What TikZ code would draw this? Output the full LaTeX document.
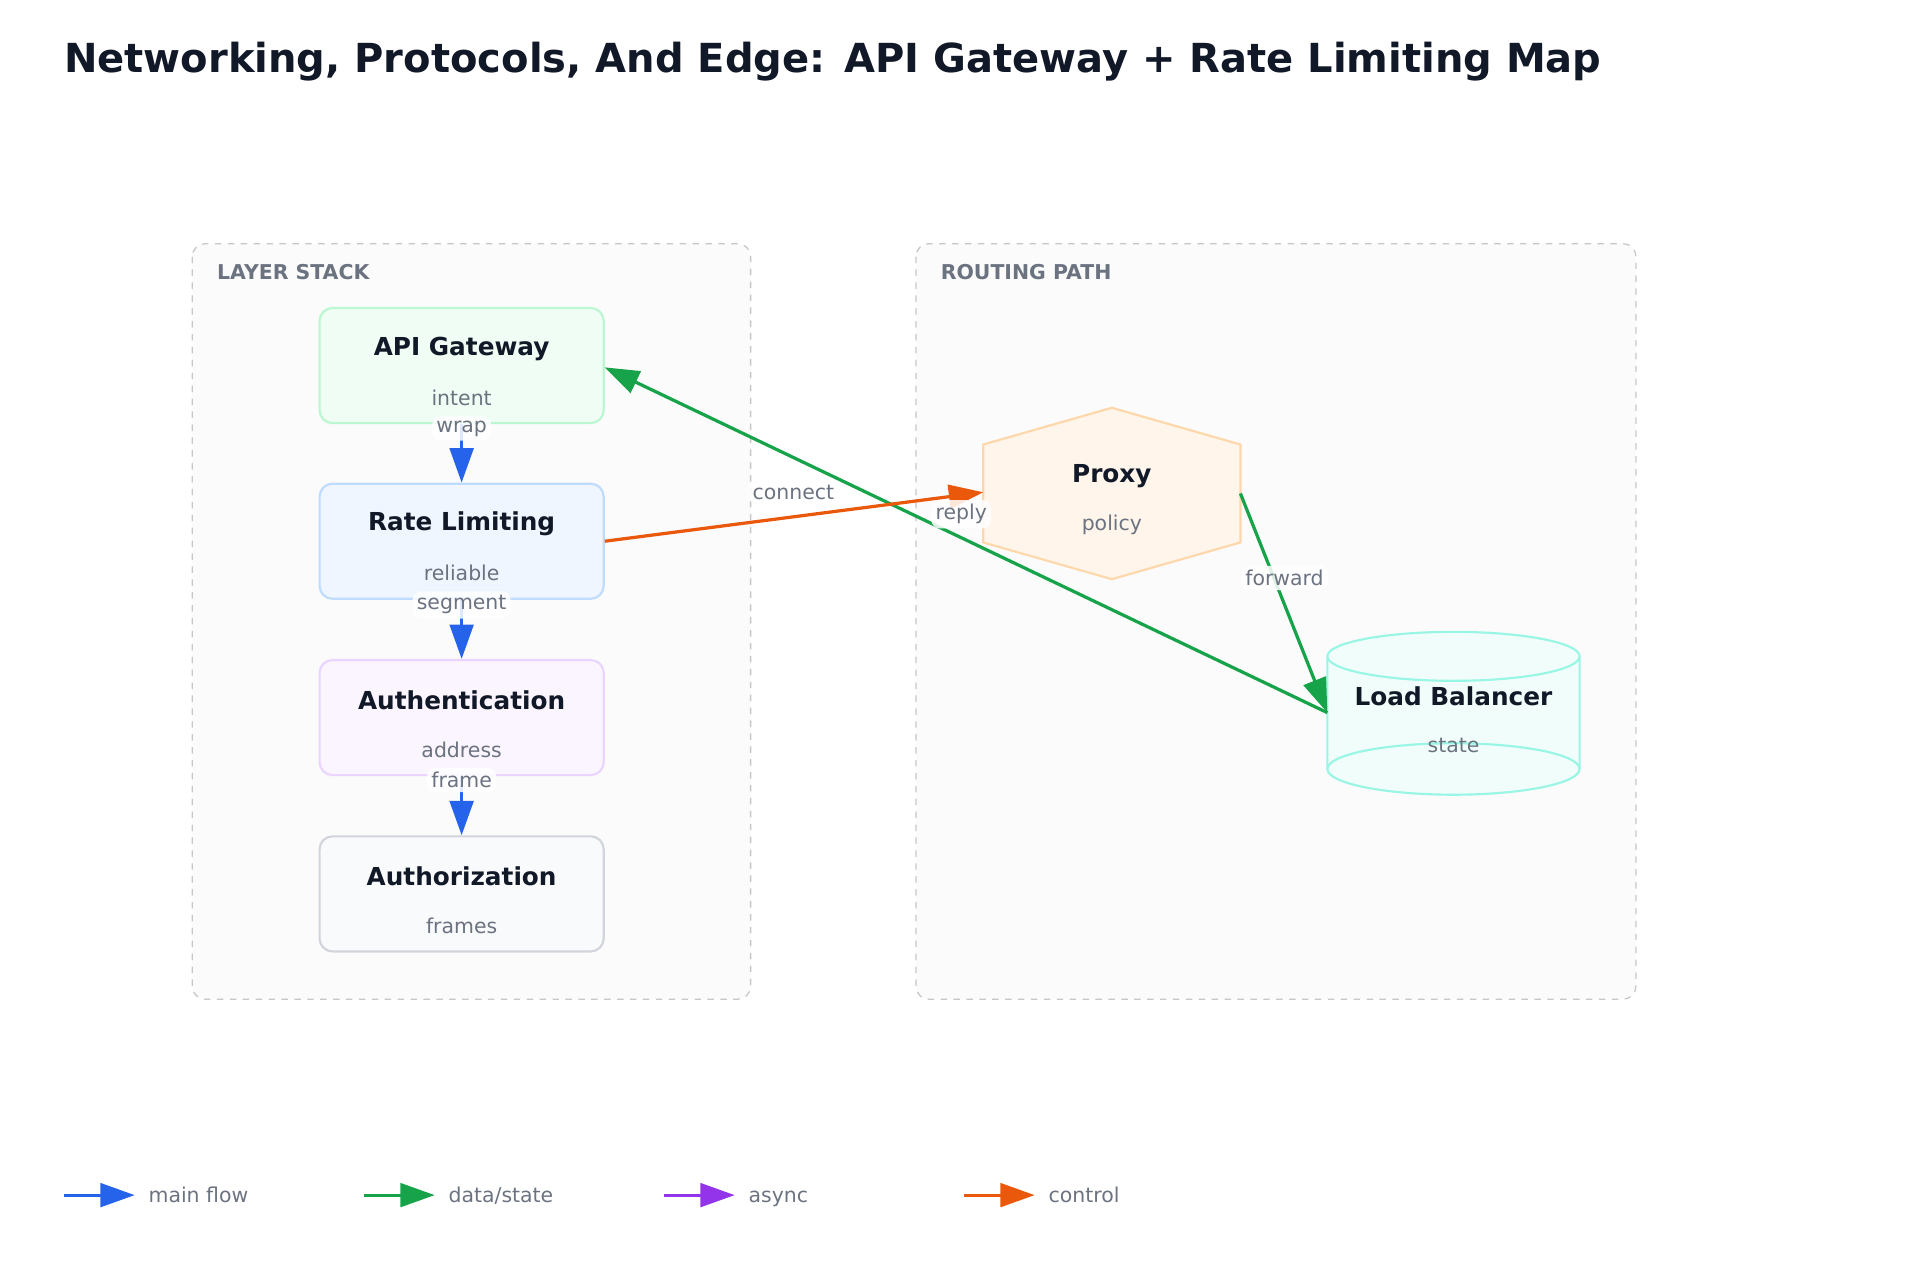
\documentclass[tikz,border=0pt]{standalone}
\usepackage{fontspec}
\setmainfont{DejaVu Sans}
\usetikzlibrary{arrows.meta}
\definecolor{ink}{HTML}{111827}
\definecolor{mute}{HTML}{6B7280}
\definecolor{cblue}{HTML}{2563EB}
\definecolor{cgreen}{HTML}{16A34A}
\definecolor{cpurp}{HTML}{9333EA}
\definecolor{corange}{HTML}{EA580C}
\definecolor{gwd}{HTML}{BBF7D0}\definecolor{gwf}{HTML}{F0FDF4}
\definecolor{rld}{HTML}{BFDBFE}\definecolor{rlf}{HTML}{EFF6FF}
\definecolor{aud}{HTML}{E9D5FF}\definecolor{auf}{HTML}{FAF5FF}
\definecolor{azd}{HTML}{D1D5DB}\definecolor{azf}{HTML}{F9FAFB}
\definecolor{pxd}{HTML}{FED7AA}\definecolor{pxf}{HTML}{FFF5EB}
\definecolor{lbd}{HTML}{99F6E4}\definecolor{lbf}{HTML}{F0FDFA}
\begin{document}
\begin{tikzpicture}[x=0.02cm,y=-0.02cm,
  panel/.style={draw=black!22,dashed,rounded corners=6pt,fill=black!1.5,line width=0.6pt},
  plabel/.style={anchor=west,inner sep=0pt,font=\bfseries\fontsize{9.5}{11}\selectfont,text=mute},
  box/.style={draw,rounded corners=6pt,line width=1pt,minimum width=232*0.02cm,minimum height=94*0.02cm},
  ttl/.style={font=\bfseries\fontsize{11.5}{13}\selectfont,text=ink},
  sub/.style={font=\fontsize{9.5}{11}\selectfont,text=mute},
  lab/.style={font=\fontsize{9.5}{11}\selectfont,text=mute,fill=white,fill opacity=0.85,text opacity=1,inner sep=2pt,rounded corners=4pt},
  arr/.style={line width=1.5pt,-{Triangle[length=16pt,width=11pt]}}]
\useasboundingbox (0,0) rectangle (1568,1045);
\node[anchor=west,inner sep=0pt,font=\bfseries\fontsize{18.6}{22}\selectfont,text=ink] (title) at (52,50) {Networking, Protocols, And Edge: API Gateway + Rate Limiting Map};
\draw[panel] (157,199) rectangle (613,816);
\node[plabel] (p1) at (177,222) {LAYER STACK};
\draw[panel] (748,199) rectangle (1336,816);
\node[plabel] (p2) at (768,222) {ROUTING PATH};
% boxes
\node[box,draw=gwd,fill=gwf] (gw) at (377,298.5) {};
\node[box,draw=rld,fill=rlf] (rl) at (377,442) {};
\node[box,draw=aud,fill=auf] (au) at (377,586) {};
\node[box,draw=azd,fill=azf] (az) at (377,730) {};
\node[ttl] at (377,285) {API Gateway}; \node[sub] at (377,325) {intent};
\node[ttl] at (377,428) {Rate Limiting}; \node[sub] at (377,468) {reliable};
\node[ttl] at (377,572) {Authentication}; \node[sub] at (377,612) {address};
\node[ttl] at (377,716) {Authorization}; \node[sub] at (377,756) {frames};
% proxy hexagon
\draw[line width=1pt,draw=pxd,fill=pxf] (803,363)--(908,333)--(1013,363)--(1013,443)--(908,473)--(803,443)--cycle;
\coordinate (pxw) at (803,402); \coordinate (pxe) at (1013,403);
\node[ttl] (px) at (908,389) {Proxy}; \node[sub] at (908,429) {policy};
% cylinder
\draw[line width=1pt,draw=lbd,fill=lbf] (1084,536) -- (1084,628) arc[start angle=180,end angle=360,x radius=103,y radius=-21] -- (1290,536) arc[start angle=0,end angle=180,x radius=103,y radius=-20] -- cycle;
\draw[line width=1pt,draw=lbd] (1084,536) arc[start angle=180,end angle=360,x radius=103,y radius=-20];
\draw[line width=1pt,draw=lbd] (1084,628) arc[start angle=180,end angle=0,x radius=103,y radius=-21];
\coordinate (lbw) at (1084,582);
\node[ttl] (lb) at (1187,569) {Load Balancer}; \node[sub] at (1187,609) {state};
% arrows
\draw[arr,cblue] (gw.south) -- (rl.north);
\draw[arr,cblue] (rl.south) -- (au.north);
\draw[arr,cblue] (au.south) -- (az.north);
\node[lab] at (377,350) {wrap};
\node[lab] at (377,494) {segment};
\node[lab] at (377,637) {frame};
\draw[arr,cgreen] (lbw) -- (gw.east |- 0,300);
\draw[arr,corange] (rl.east) -- (pxw);
\draw[arr,cgreen] (pxe) -- (lbw);
\node[lab] at (648,402) {connect};
\node[lab] at (785,420) {reply};
\node[lab] at (1049,472) {forward};
% legend
\foreach \x/\c/\t [count=\i] in {52/cblue/{main flow},297/cgreen/{data/state},542/cpurp/{async},787/corange/{control}}{
  \coordinate (l\i a) at (\x,976); \coordinate (l\i b) at (\x+58,976);
  \draw[arr,\c] (l\i a) -- (l\i b);
  \node[sub,anchor=base west,inner sep=0pt] at (\x+69,982) {\t};
}
\end{tikzpicture}
\end{document}
